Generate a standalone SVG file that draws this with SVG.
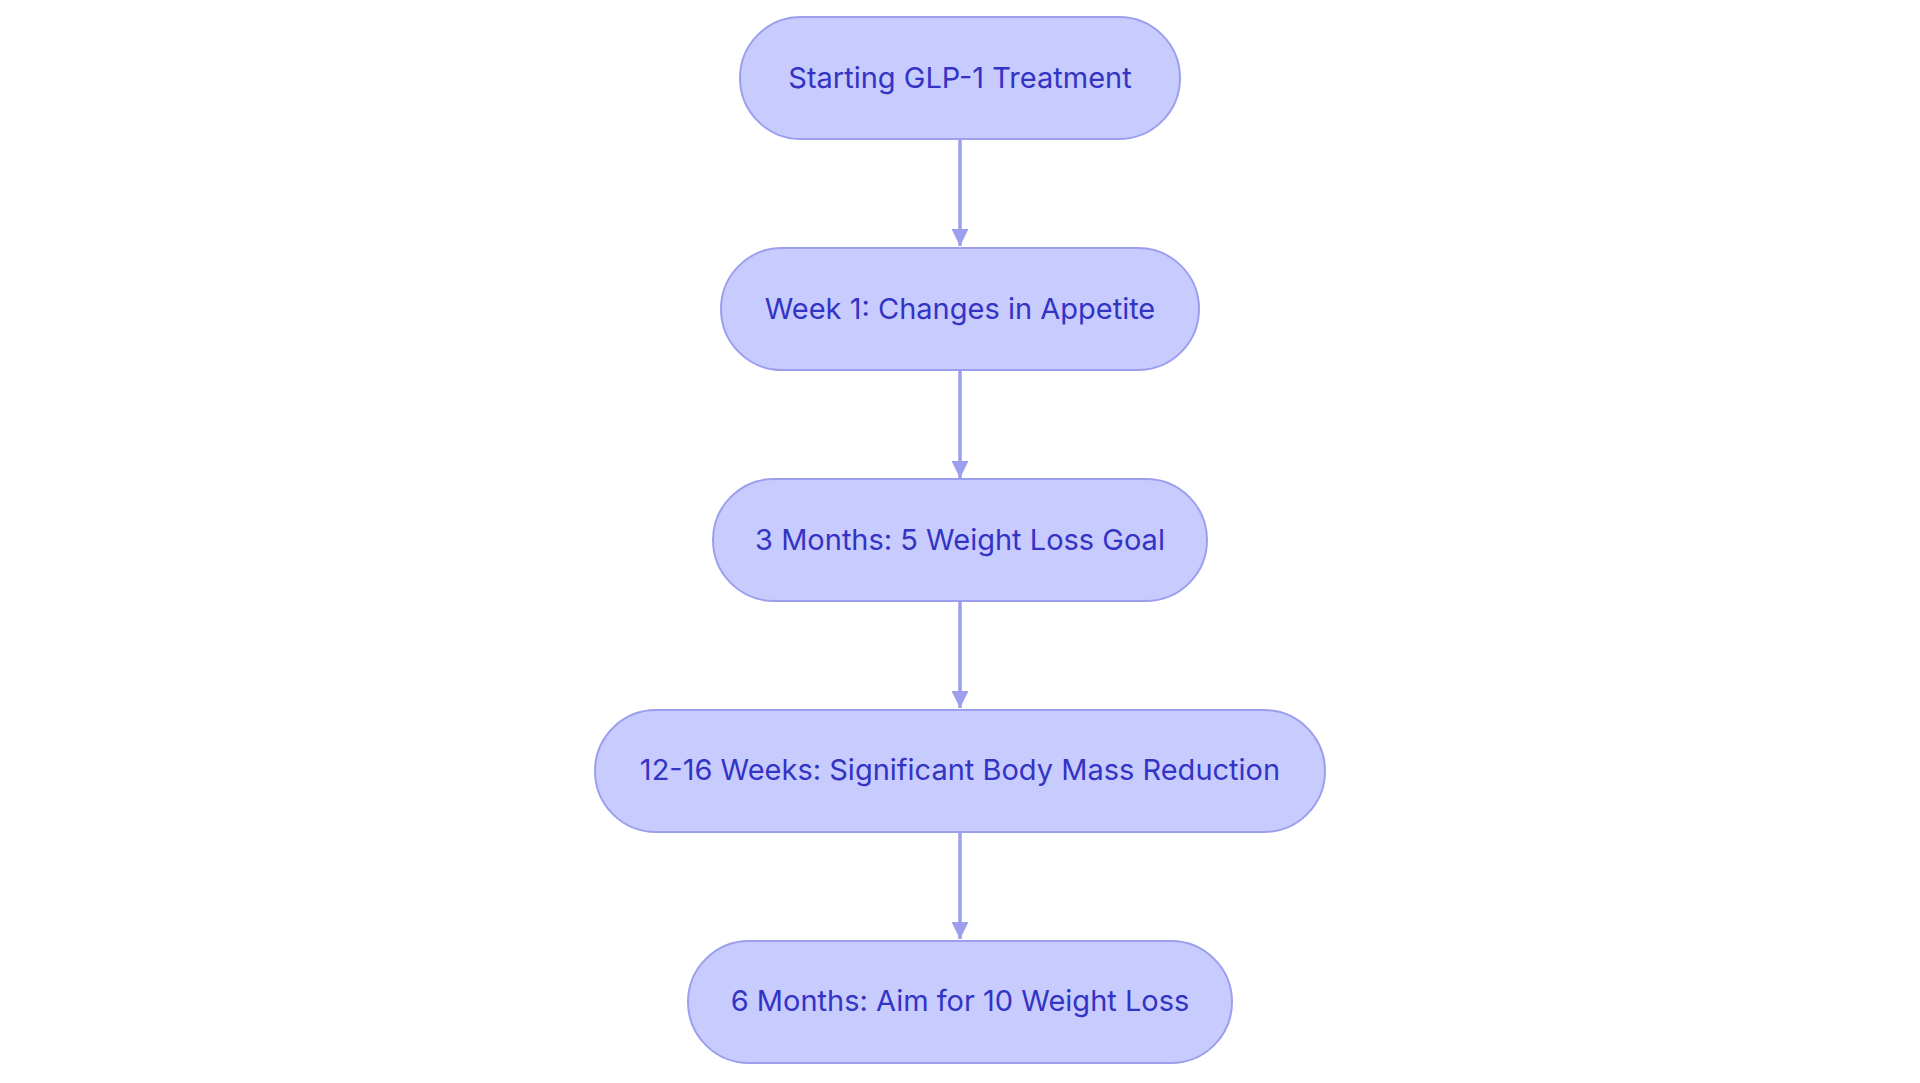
<svg xmlns="http://www.w3.org/2000/svg" width="1920" height="1083" viewBox="0 0 1920 1083">
<style>
.n rect{fill:#c8cbfe;stroke:#9c9fee;stroke-width:2}
.n text{font-family:Inter,"Noto Sans",sans-serif;font-size:29px;fill:#3333c4;text-anchor:middle;dominant-baseline:central}
.c line{stroke:#9c9fee;stroke-width:3.5}
</style>
<defs><marker id="a" viewBox="0 0 10 10" refX="10" refY="5" markerWidth="5" markerHeight="5" orient="auto" markerUnits="strokeWidth"><path d="M0,0L10,5L0,10z" fill="#9c9fee"/></marker></defs>
<rect width="1920" height="1083" fill="#fff"/>
<g class="c">
<line x1="960" y1="139" x2="960" y2="246" marker-end="url(#a)"/>
<line x1="960" y1="370" x2="960" y2="478" marker-end="url(#a)"/>
<line x1="960" y1="601" x2="960" y2="708" marker-end="url(#a)"/>
<line x1="960" y1="832" x2="960" y2="939" marker-end="url(#a)"/>
</g>
<g id="n1" class="n"><rect x="740" y="17" width="440" height="122" rx="61"/><text x="960" y="77">Starting GLP-1 Treatment</text></g>
<g id="n2" class="n"><rect x="721" y="248" width="478" height="122" rx="61"/><text x="960" y="308">Week 1: Changes in Appetite</text></g>
<g id="n3" class="n"><rect x="713" y="479" width="494" height="122" rx="61"/><text x="960" y="539">3 Months: 5 Weight Loss Goal</text></g>
<g id="n4" class="n"><rect x="595" y="710" width="730" height="122" rx="61"/><text x="960" y="769">12-16 Weeks: Significant Body Mass Reduction</text></g>
<g id="n5" class="n"><rect x="688" y="941" width="544" height="122" rx="61"/><text x="960" y="1000">6 Months: Aim for 10 Weight Loss</text></g>
</svg>
